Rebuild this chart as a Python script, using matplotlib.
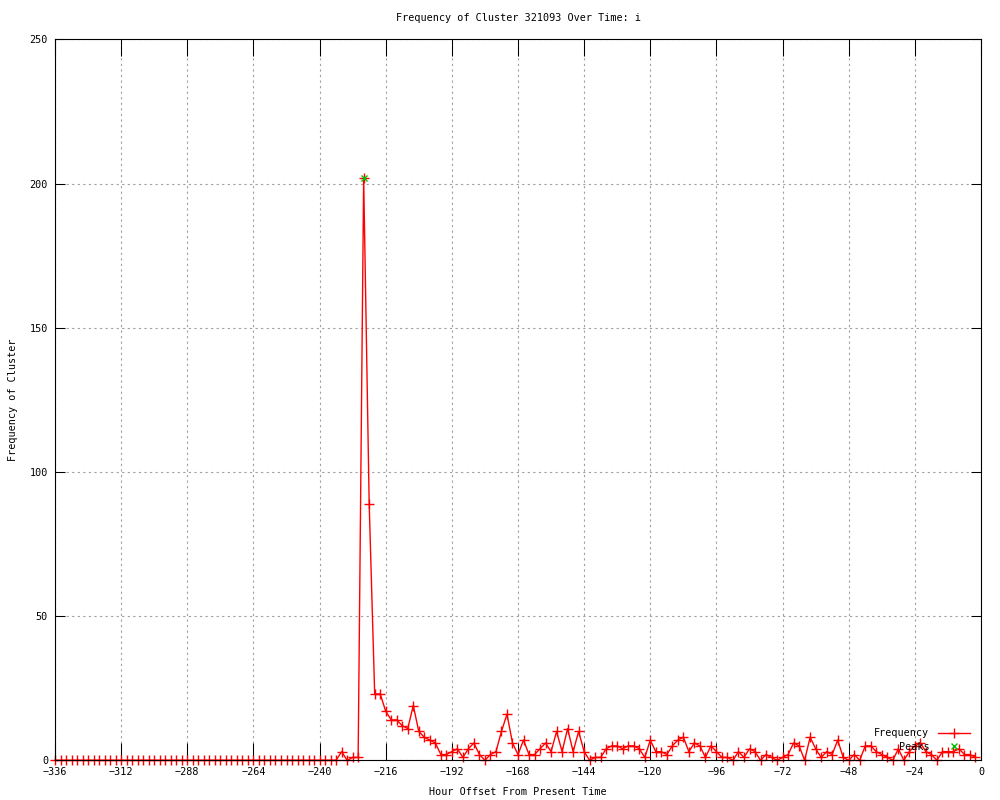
import matplotlib
matplotlib.use("Agg")
import matplotlib.pyplot as plt
from matplotlib.lines import Line2D

hours = list(range(-336, 0, 2))
frequency = [
    0, 0, 0, 0, 0, 0, 0, 0, 0, 0, 0, 0, 0,
    0, 0, 0, 0, 0, 0, 0, 0, 0, 0, 0, 0, 0,
    0, 0, 0, 0, 0, 0, 0, 0, 0, 0, 0, 0, 0,
    0, 0, 0, 0, 0, 0, 0, 0, 0, 0, 0, 0, 0,
    3, 0, 1, 1, 202, 89, 23, 23, 17, 14, 14, 12, 11, 19, 10, 8, 7, 6,
    2, 2, 3, 4, 1, 4, 6, 2, 0, 2, 3, 10, 16, 6, 2, 7, 2, 2, 4, 6,
    3, 10, 3, 11, 3, 10, 3, 0, 1, 1, 4, 5, 5, 4, 5, 5, 4, 1, 7, 3,
    3, 2, 5, 7, 8, 3, 6, 5, 1, 5, 3, 1, 1, 0, 3, 1, 4, 3, 0, 2,
    1, 0, 1, 2, 6, 5, 0, 8, 4, 1, 3, 2, 7, 1, 0, 2, 0, 5, 5, 3,
    2, 1, 0, 4, 0, 3, 5, 6, 3, 2, 0, 3, 3, 3, 4, 2, 2, 1,
]
peak_hours = [-224]
peak_values = [202]
x_ticks = list(range(-336, 1, 24))
y_ticks = list(range(0, 251, 50))

FONT = "DejaVu Sans Mono"
FS = 7.3
plt.rcParams['font.family'] = [FONT]

fig = plt.figure(figsize=(10, 8), dpi=100)
L, R, B, T = 55 / 1000, 981 / 1000, (800 - 760.3) / 800, (800 - 39.3) / 800
ax = fig.add_axes([L, B, R - L, T - B])

ax.plot(hours, frequency, color='#ff0000', linewidth=1.0, marker='+',
        markersize=7, markeredgewidth=1.0, zorder=3, clip_on=False)
ax.plot(peak_hours, peak_values, linestyle='none', color='#00c000', marker='x',
        markersize=5, markeredgewidth=1.0, zorder=4)

ax.set_xlim(-336, 0)
ax.set_ylim(0, 250)
ax.set_xticks(x_ticks)
ax.set_yticks(y_ticks)
ax.tick_params(axis='x', direction='in', length=12, width=0.75, top=True,
               labelsize=FS, pad=5, colors='black')
ax.tick_params(axis='y', direction='in', length=7, width=0.75, right=True,
               labelsize=FS, pad=5, colors='black')
ax.grid(True, color='#a0a0a0', linewidth=0.8, linestyle=(0, (2, 3)))
ax.set_axisbelow(True)
for s in ax.spines.values():
    s.set_linewidth(0.8)
    s.set_color('black')
    s.set_zorder(5)

fig.text(0.518, 1 - 18 / 800, "Frequency of Cluster 321093 Over Time: i",
         ha='center', va='center', fontsize=FS)
fig.text(0.518, 1 - 792 / 800, "Hour Offset From Present Time",
         ha='center', va='center', fontsize=FS)
fig.text(0.013, 0.5, "Frequency of Cluster", rotation=90,
         ha='center', va='center', fontsize=FS)

handles = [
    Line2D([], [], color='#ff0000', linewidth=1.0, marker='+', markersize=7,
           markeredgewidth=1.0),
    Line2D([], [], color='#00c000', linestyle='none', marker='x', markersize=5,
           markeredgewidth=1.0),
]
leg = ax.legend(handles, ["Frequency", "Peaks"], loc='lower right',
                bbox_to_anchor=((970 - 55) / 926, (760.3 - 752) / 721),
                frameon=False, markerfirst=False, fontsize=FS, borderpad=0,
                handlelength=3.2, handletextpad=0.8, labelspacing=0.35,
                borderaxespad=0, numpoints=1)
leg.set_zorder(6)

fig.savefig("out.png", dpi=100)
